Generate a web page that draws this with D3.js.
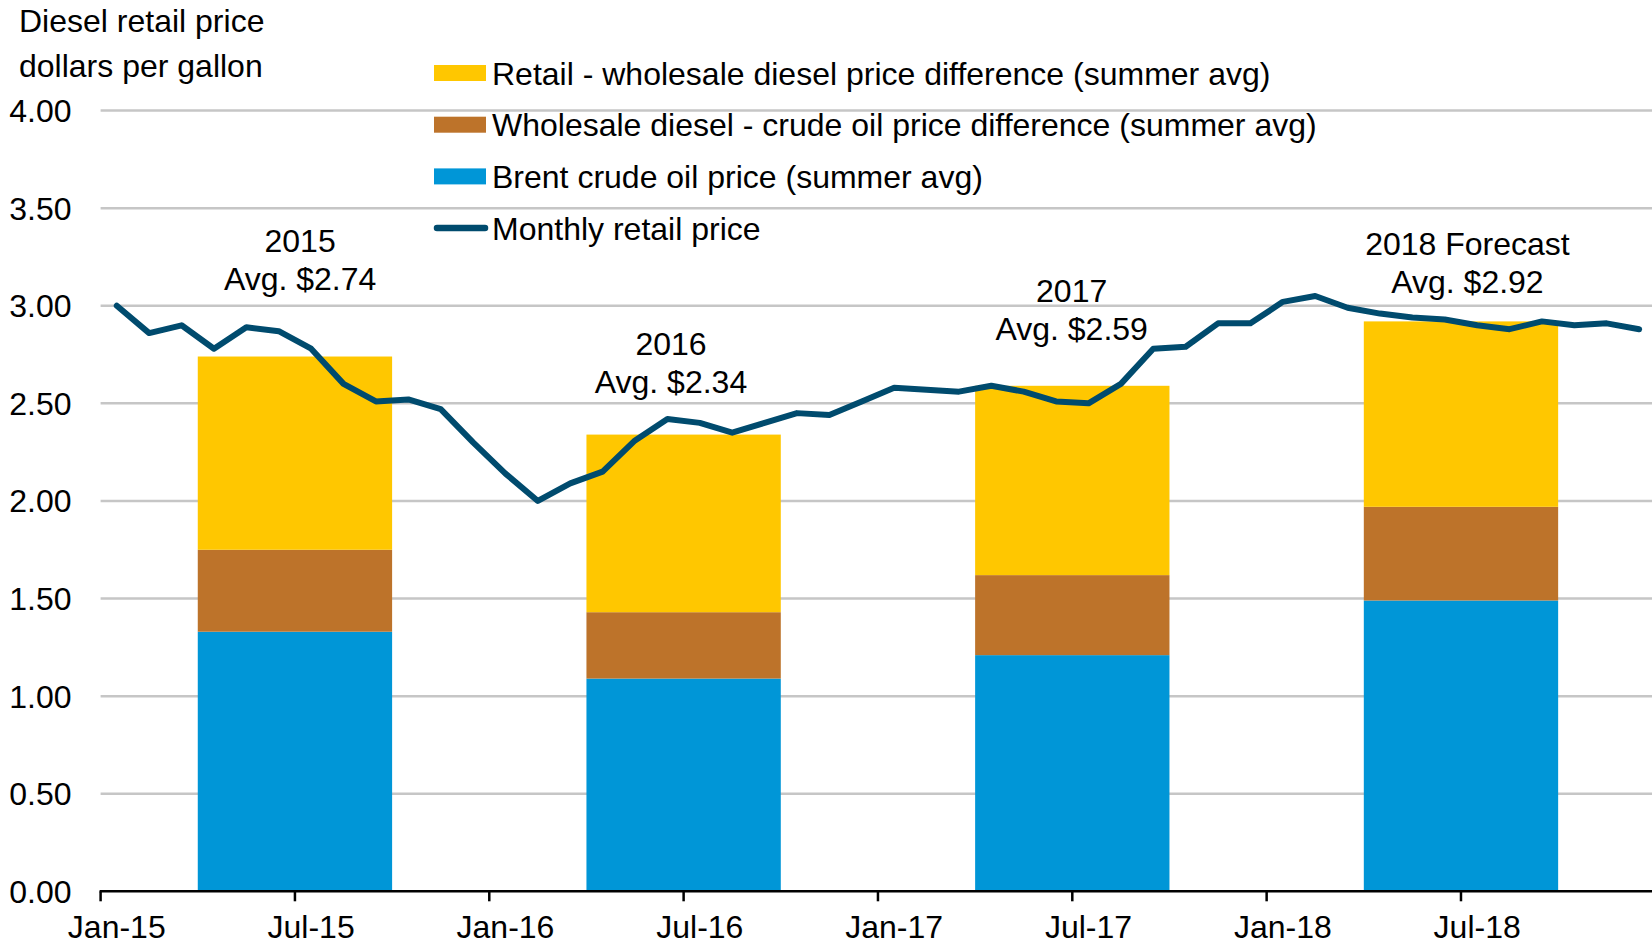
<!DOCTYPE html>
<html>
<head>
<meta charset="utf-8">
<script src="https://cdn.jsdelivr.net/npm/d3@7"></script>
<style>
  html, body { margin: 0; padding: 0; background: #fff; }
  svg { display: block; }
  text { font-family: "Liberation Sans", Arial, sans-serif; fill: #000; }
</style>
</head>
<body>
<svg id="chart" width="1652" height="944"></svg>
<script>
// ---------------- DATA ----------------
const years = ["15", "16", "17", "18"];
const monthNames = ["Jan","Feb","Mar","Apr","May","Jun","Jul","Aug","Sep","Oct","Nov","Dec"];
const months = years.flatMap(y => monthNames.map(m => m + "-" + y));

const monthlyRetail = [
  3.00, 2.86, 2.90, 2.78, 2.89, 2.87, 2.78, 2.60, 2.51, 2.52, 2.47, 2.30,
  2.14, 2.00, 2.09, 2.15, 2.31, 2.42, 2.40, 2.35, 2.40, 2.45, 2.44, 2.51,
  2.58, 2.57, 2.56, 2.59, 2.56, 2.51, 2.50, 2.60, 2.78, 2.79, 2.91, 2.91,
  3.02, 3.05, 2.99, 2.96, 2.94, 2.93, 2.90, 2.88, 2.92, 2.90, 2.91, 2.88
];

const summerLabels = ["2015", "2016", "2017", "2018 Forecast"];
const summerAvgText = ["Avg. $2.74", "Avg. $2.34", "Avg. $2.59", "Avg. $2.92"];
const summerStart = ["Apr-15", "Apr-16", "Apr-17", "Apr-18"];
const summerEnd = ["Sep-15", "Sep-16", "Sep-17", "Sep-18"];
const brentPrice = [1.33, 1.09, 1.21, 1.49];
const wholesaleCrudeDiff = [0.42, 0.34, 0.41, 0.48];
const retailWholesaleDiff = [0.99, 0.91, 0.97, 0.95];

const yTicks = [0, 0.5, 1, 1.5, 2, 2.5, 3, 3.5, 4];
const xTickLabels = ["Jan-15","Jul-15","Jan-16","Jul-16","Jan-17","Jul-17","Jan-18","Jul-18"];

const seriesKeys = ["brent", "wholesale", "retail"];
const seriesNames = {
  retail: "Retail - wholesale diesel price difference (summer avg)",
  wholesale: "Wholesale diesel - crude oil price difference (summer avg)",
  brent: "Brent crude oil price (summer avg)"
};
const lineName = "Monthly retail price";
const yTitle = ["Diesel retail price", "dollars per gallon"];

// annotation anchors in data units (month index, dollars)
const annMonth = [6.16, 17.61, 29.98, 42.2];
const annValue = [3.335, 2.805, 3.08, 3.317];

// ---------------- STYLE ----------------
const colors = { retail: "#FFC700", wholesale: "#BD732A", brent: "#0096D7", line: "#004B6E" };
const FONT = 32;
const margin = { left: 100.6, top: 110.6, bottom: 891.3 };
const monthW = 32.39;

// ---------------- SCALES ----------------
const svg = d3.select("#chart");
svg.append("rect").attr("width", 1652).attr("height", 944).attr("fill", "#fff");

const x = d3.scaleBand()
  .domain(months)
  .range([margin.left, margin.left + months.length * monthW])
  .padding(0);
const xIdx = d3.scaleLinear().domain([0, months.length]).range(x.range());
const y = d3.scaleLinear().domain([0, 4]).range([margin.bottom, margin.top]);

// ---------------- GRID ----------------
svg.append("g")
  .selectAll("line")
  .data(yTicks.filter(d => d > 0))
  .join("line")
  .attr("x1", margin.left)
  .attr("x2", 1652)
  .attr("y1", d => y(d))
  .attr("y2", d => y(d))
  .attr("stroke", "#C6C6C6")
  .attr("stroke-width", 2.5);

// y labels
svg.append("g")
  .selectAll("text")
  .data(yTicks)
  .join("text")
  .attr("x", 71.6)
  .attr("y", d => y(d))
  .attr("dy", "0.36em")
  .attr("text-anchor", "end")
  .style("font-size", FONT + "px")
  .text(d => d3.format(".2f")(d));

// ---------------- BARS ----------------
const barData = summerLabels.map((lab, i) => ({
  label: lab,
  start: summerStart[i],
  end: summerEnd[i],
  brent: brentPrice[i],
  wholesale: wholesaleCrudeDiff[i],
  retail: retailWholesaleDiff[i]
}));
const stacked = d3.stack().keys(seriesKeys)(barData);

svg.append("g")
  .selectAll("g")
  .data(stacked)
  .join("g")
  .attr("fill", d => colors[d.key])
  .selectAll("rect")
  .data(d => d)
  .join("rect")
  .attr("x", d => x(d.data.start))
  .attr("width", d => x(d.data.end) + x.bandwidth() - x(d.data.start))
  .attr("y", d => y(d[1]))
  .attr("height", d => y(d[0]) - y(d[1]));

// ---------------- LINE ----------------
const line = d3.line()
  .x((d, i) => x(months[i]) + x.bandwidth() / 2)
  .y(d => y(d));

svg.append("path")
  .datum(monthlyRetail)
  .attr("d", line)
  .attr("fill", "none")
  .attr("stroke", colors.line)
  .attr("stroke-width", 6)
  .attr("stroke-linejoin", "round")
  .attr("stroke-linecap", "round");

// ---------------- X AXIS ----------------
const xAxisG = svg.append("g");
xAxisG.append("line")
  .attr("x1", margin.left - 1)
  .attr("x2", 1652)
  .attr("y1", y(0))
  .attr("y2", y(0))
  .attr("stroke", "#000")
  .attr("stroke-width", 2.5);

xAxisG.selectAll("line.tick")
  .data(xTickLabels)
  .join("line")
  .attr("class", "tick")
  .attr("x1", d => x(d))
  .attr("x2", d => x(d))
  .attr("y1", y(0))
  .attr("y2", y(0) + 10)
  .attr("stroke", "#000")
  .attr("stroke-width", 2.5);

xAxisG.selectAll("text")
  .data(xTickLabels)
  .join("text")
  .attr("x", d => x(d) + x.bandwidth() / 2)
  .attr("y", 926)
  .attr("dy", "0.36em")
  .attr("text-anchor", "middle")
  .style("font-size", FONT + "px")
  .text(d => d);

// ---------------- ANNOTATIONS ----------------
const ann = svg.append("g");
summerLabels.forEach((lab, i) => {
  const cx = xIdx(annMonth[i]);
  const cy = y(annValue[i]);
  ann.append("text")
    .attr("x", cx).attr("y", cy).attr("dy", "0.36em")
    .attr("text-anchor", "middle")
    .style("font-size", FONT + "px")
    .text(lab);
  ann.append("text")
    .attr("x", cx).attr("y", cy + 38).attr("dy", "0.36em")
    .attr("text-anchor", "middle")
    .style("font-size", FONT + "px")
    .text(summerAvgText[i]);
});

// ---------------- Y TITLE ----------------
svg.append("g")
  .selectAll("text")
  .data(yTitle)
  .join("text")
  .attr("x", 19)
  .attr("y", (d, i) => 20 + i * 45)
  .attr("dy", "0.36em")
  .style("font-size", FONT + "px")
  .text(d => d);

// ---------------- LEGEND ----------------
const legendItems = [
  { key: "retail", type: "rect" },
  { key: "wholesale", type: "rect" },
  { key: "brent", type: "rect" },
  { key: "line", type: "line" }
];
const lg = svg.append("g");
legendItems.forEach((it, i) => {
  const cy = 73 + i * 51.7;
  if (it.type === "rect") {
    lg.append("rect")
      .attr("x", 434).attr("y", cy - 8)
      .attr("width", 52).attr("height", 16)
      .attr("fill", colors[it.key]);
  } else {
    lg.append("line")
      .attr("x1", 437).attr("x2", 485)
      .attr("y1", cy).attr("y2", cy)
      .attr("stroke", colors.line)
      .attr("stroke-width", 6.5)
      .attr("stroke-linecap", "round");
  }
  lg.append("text")
    .attr("x", 492).attr("y", cy).attr("dy", "0.36em")
    .style("font-size", FONT + "px")
    .text(it.type === "rect" ? seriesNames[it.key] : lineName);
});
</script>
</body>
</html>
